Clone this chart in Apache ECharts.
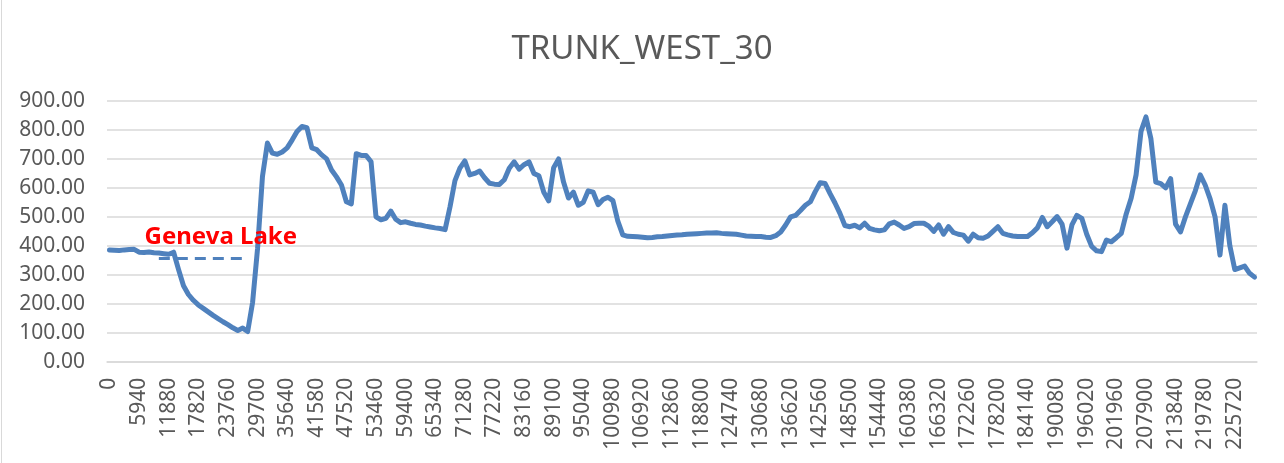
<!DOCTYPE html>
<html>
<head>
<meta charset="utf-8">
<script src="https://cdn.jsdelivr.net/npm/echarts@6/dist/echarts.min.js"></script>
<style>
  html, body { margin: 0; padding: 0; background: #ffffff; }
  #chart { width: 1284px; height: 463px; }
</style>
</head>
<body>
<div id="chart"></div>
<script>
// Station spacing along the trunk (one reading every 990 units)
const STEP = 990;

// Measured values at each station
const values = [
  386, 385, 384, 386, 387, 388, 378, 377, 379, 376,
  375, 373, 371, 378, 318, 262, 232, 212, 196, 184,
  172, 160, 149, 138, 128, 117, 108, 116, 104, 205,
  390, 640, 755, 720, 716, 724, 738, 765, 795, 812,
  808, 738, 732, 714, 700, 662, 638, 610, 552, 545,
  718, 712, 712, 690, 500, 490, 495, 520, 492, 480,
  483, 478, 474, 472, 468, 465, 462, 460, 456, 535,
  625, 668, 693, 645, 650, 658, 635, 616, 613, 612,
  628, 668, 690, 665, 680, 690, 650, 642, 585, 555,
  670, 700, 620, 565, 585, 540, 550, 590, 585, 542,
  560, 568, 556, 485, 438, 433, 432, 431, 430, 428,
  429, 431, 432, 434, 436, 437, 438, 440, 441, 442,
  443, 444, 444, 445, 443, 442, 441, 440, 437, 434,
  433, 432, 432, 430, 429, 435, 448, 472, 500, 505,
  522, 540, 552, 587, 618, 615, 580, 548, 512, 470,
  466, 471, 462, 478, 460, 455, 452, 455, 476, 482,
  472, 460, 466, 477, 478, 478, 468, 450, 472, 440,
  466, 446, 440, 437, 416, 440, 428, 426, 434, 450,
  466, 443, 438, 434, 432, 432, 432, 445, 462, 498,
  466, 483, 501, 475, 392, 472, 505, 495, 440, 398,
  383, 380, 420, 414, 428, 443, 510, 564, 645, 795,
  845, 770, 620, 615, 600, 632, 475, 448, 500, 545,
  590, 645, 610, 562, 500, 368, 540, 400, 318, 324,
  330, 305, 292
];

// Category labels: station positions
const categories = values.map((_, i) => String(i * STEP));

// Geneva Lake reference level and the stretch it spans (category indices)
const lakeLevel = 358;
const lakeStart = 10;
const lakeEnd = 27;

const chart = echarts.init(document.getElementById('chart'), null, { renderer: 'canvas' });

chart.setOption({
  animation: false,
  backgroundColor: '#ffffff',
  title: {
    text: 'TRUNK_WEST_30',
    left: 'center',
    top: 28,
    textStyle: {
      fontFamily: 'Noto Sans',
      fontSize: 33,
      fontWeight: 'normal',
      color: '#595959'
    }
  },
  graphic: [{
    type: 'line',
    shape: { x1: 1.5, y1: 0, x2: 1.5, y2: 463 },
    style: { stroke: '#d9d9d9', lineWidth: 1 },
    silent: true
  }],
  grid: {
    left: 107,
    right: 27,
    top: 101,
    bottom: 101.3,
    containLabel: false
  },
  xAxis: {
    type: 'category',
    data: categories,
    boundaryGap: true,
    axisLine: { show: true, lineStyle: { color: '#d9d9d9', width: 1.5 } },
    axisTick: { show: false },
    axisLabel: {
      interval: 5,
      rotate: 90,
      margin: 16,
      fontFamily: 'Noto Sans',
      fontSize: 21,
      color: '#595959'
    },
    splitLine: { show: false }
  },
  yAxis: {
    type: 'value',
    min: 0,
    max: 900,
    interval: 100,
    axisLine: { show: false },
    axisTick: { show: false },
    axisLabel: {
      margin: 22,
      fontFamily: 'Noto Sans',
      fontSize: 21,
      color: '#595959',
      formatter: v => v.toFixed(2)
    },
    splitLine: { show: true, lineStyle: { color: '#d9d9d9', width: 1.5 } }
  },
  series: [{
    type: 'line',
    data: values,
    showSymbol: false,
    symbol: 'none',
    lineStyle: { color: '#4f81bd', width: 5, cap: 'round', join: 'round' },
    z: 3,
    markLine: {
      silent: true,
      symbol: ['none', 'none'],
      animation: false,
      lineStyle: { color: '#4f81bd', width: 3, type: [11, 7] },
      label: {
        show: true,
        formatter: 'Geneva Lake',
        position: 'insideMiddleTop',
        distance: 9,
        offset: [20, 0],
        color: '#ff0000',
        fontFamily: 'Noto Sans',
        fontWeight: 'bold',
        fontSize: 24
      },
      data: [[
        { coord: [lakeStart, lakeLevel] },
        { coord: [lakeEnd, lakeLevel] }
      ]]
    }
  }]
});
</script>
</body>
</html>
